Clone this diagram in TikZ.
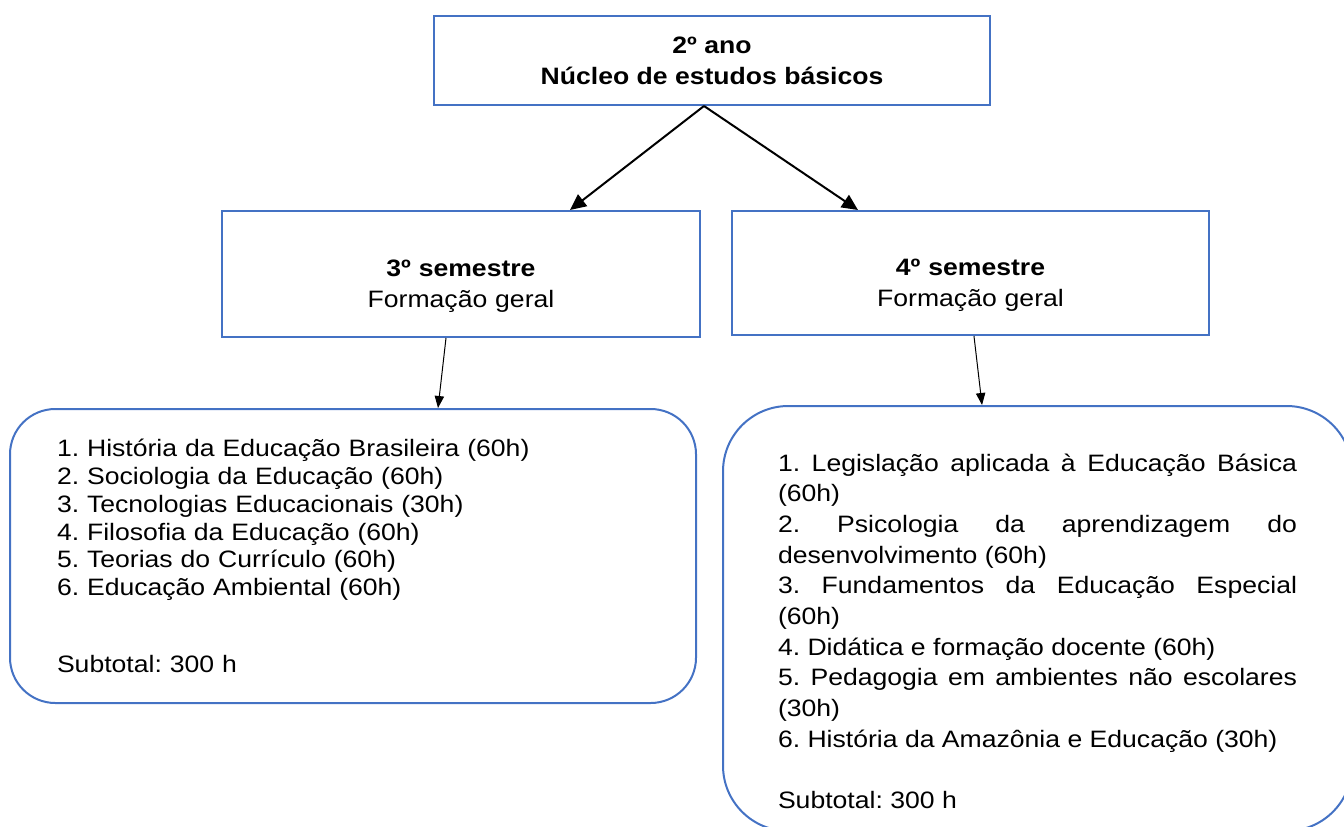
\documentclass[tikz,border=0pt]{standalone}
\usepackage{fontspec}
\setmainfont[FakeStretch=1.12]{Liberation Sans}
\usetikzlibrary{arrows.meta}
\definecolor{boxblue}{HTML}{4472C4}
\frenchspacing
\hyphenpenalty=10000
\tolerance=10000
\hbadness=10000

\begin{document}
\begin{tikzpicture}[x=0.75pt,y=0.75pt,yscale=-1,
    box/.style={rectangle,draw=boxblue,line width=1.5pt,align=center,font=\fontsize{17.8}{23.5}\selectfont},
    listbox/.style={rectangle,draw=boxblue,line width=1.5pt,font=\fontsize{17.8}{20.8}\selectfont},
    bigarrow/.style={-{Triangle[length=12pt,width=11pt]},line width=1.5pt},
    smallarrow/.style={-{Triangle[length=9pt,width=7pt]},line width=0.75pt}]
\useasboundingbox (0,0) rectangle (1344,827);
\clip (0,0) rectangle (1344,827);
\path (712,60.5) node[box,minimum width=417pt,minimum height=66.75pt] (A) {\textbf{2º ano}\\\textbf{Núcleo de estudos básicos}};
\path (461,274) node[box,text width=340pt,minimum width=358.5pt,minimum height=94.5pt] (B) {\rule{0pt}{31pt}\textbf{3º semestre}\\Formação geral};
\path (970.5,273) node[box,text width=340pt,minimum width=357.75pt,minimum height=93pt] (C) {\rule{0pt}{31pt}\textbf{4º semestre}\\Formação geral};
\path (353,556) node[listbox,rounded corners=34pt,text width=444pt,inner xsep=35.25pt,minimum height=220.5pt,align=left] (D) {1. História da Educação Brasileira (60h)\\
2. Sociologia da Educação (60h)\\
3. Tecnologias Educacionais (30h)\\
4. Filosofia da Educação (60h)\\
5. Teorias do Currículo (60h)\\
6. Educação Ambiental (60h)\\[36.7pt]
Subtotal: 300 h};
\path (1037.5,618.5) node[listbox,rounded corners=49pt,text width=389.25pt,inner xsep=41.25pt,minimum height=318.75pt,align=justify,font=\fontsize{17.8}{23}\selectfont] (E) {\rule{0pt}{32pt}1. Legislação aplicada à Educação Básica\linebreak (60h)\\
2. Psicologia da aprendizagem do\linebreak desenvolvimento (60h)\\
3. Fundamentos da Educação Especial\linebreak (60h)\\
4. Didática e formação docente (60h)\\
5. Pedagogia em ambientes não escolares\linebreak (30h)\\
6. História da Amazônia e Educação (30h)\\[23pt]
Subtotal: 300 h};
\draw[bigarrow] ([xshift=-6pt]A.south) -- ([xshift=81.75pt]B.north);
\draw[bigarrow] ([xshift=-6pt]A.south) -- ([xshift=-84.4pt]C.north);
\draw[smallarrow] ([xshift=-11.25pt]B.south) -- ([xshift=63.75pt]D.north);
\draw[smallarrow] ([xshift=2.6pt]C.south) -- ([xshift=-41.6pt]E.north);
\end{tikzpicture}
\end{document}
